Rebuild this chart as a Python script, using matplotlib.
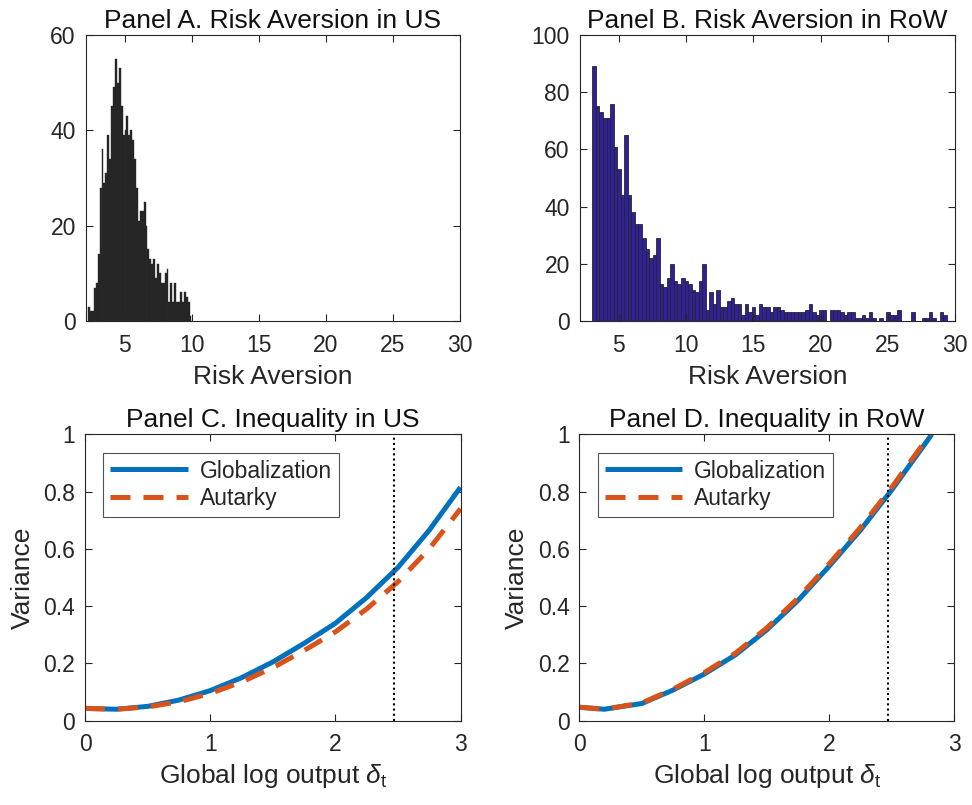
import numpy as np
import matplotlib
matplotlib.use("Agg")
import matplotlib.pyplot as plt

plt.rcParams['font.family'] = ['Liberation Sans', 'DejaVu Sans']
plt.rcParams['mathtext.fontset'] = 'custom'
plt.rcParams['mathtext.rm'] = 'Liberation Sans'
plt.rcParams['mathtext.it'] = 'Liberation Sans:italic'

# ---------------- data ----------------
# Panel A: US risk aversion histogram
us_bin_start = 2.27
us_bin_width = 0.1426
us_counts = [3, 2, 2, 7, 8, 14, 28, 36, 29, 31, 39, 34, 45, 49, 55, 50, 53, 45,
             39, 40, 43, 39, 40, 38, 34, 28, 21, 23, 23, 25, 20, 15, 13, 12, 13,
             9, 12, 10, 8, 8, 10, 11, 4, 8, 4, 8, 4, 4, 6, 4, 6, 5, 4, 1]

# Panel B: RoW risk aversion histogram
row_bin_start = 3.03
row_bin_width = 0.2635
row_counts = [89, 75, 73, 71, 71, 76, 61, 53, 44, 65,
              44, 38, 34, 34, 29, 25, 22, 23, 29, 13,
              12, 15, 20, 14, 13, 15, 14, 13, 11, 10,
              14, 20, 4, 10, 6, 11, 5, 5, 7, 8,
              6, 6, 2, 6, 3, 5, 2, 6, 5, 5,
              3, 5, 5, 4, 3, 3, 3, 3, 3, 3,
              4, 6, 3, 2, 4, 4, 0, 4, 4, 4,
              3, 2, 3, 3, 1, 1, 2, 1, 3, 1,
              0, 1, 0, 3, 2, 2, 4, 0, 0, 0,
              3, 0, 0, 1, 1, 3, 1, 0, 3, 2]

# Panel C: inequality in US
us_delta = [0.0, 0.25, 0.5, 0.75, 1.0, 1.25, 1.5, 1.75, 2.0, 2.25, 2.5, 2.75, 3.0]
us_glob = [0.043, 0.040, 0.050, 0.072, 0.105, 0.150, 0.205, 0.270, 0.340, 0.430, 0.535, 0.665, 0.815]
us_aut = [0.043, 0.040, 0.048, 0.066, 0.095, 0.135, 0.185, 0.245, 0.310, 0.390, 0.485, 0.600, 0.740]

# Panel D: inequality in RoW
row_delta = [0.0, 0.2, 0.5, 0.75, 1.0, 1.25, 1.5, 1.75, 2.0, 2.25, 2.5, 2.75, 2.82]
row_glob = [0.047, 0.040, 0.060, 0.107, 0.163, 0.230, 0.317, 0.420, 0.540, 0.666, 0.806, 0.957, 1.0]
row_aut = [0.047, 0.040, 0.062, 0.110, 0.168, 0.236, 0.324, 0.428, 0.548, 0.675, 0.815, 0.966, 1.01]

vline_x = 2.47

# ---------------- figure ----------------
fig = plt.figure(figsize=(9.72, 8.05), dpi=100)
W, H = 972, 805

def add_ax(l, r, t, b):
    return fig.add_axes([l / W, 1 - b / H, (r - l) / W, (b - t) / H])

axA = add_ax(85.5, 460, 35, 321)
axB = add_ax(579.5, 955, 35, 321)
axC = add_ax(85, 460.5, 434.3, 720.7)
axD = add_ax(579.3, 954.3, 434.3, 720.7)

txt = '#262626'
tick_fs = 16.5
lab_fs = 19

def style(ax):
    for s in ax.spines.values():
        s.set_color(txt)
        s.set_linewidth(0.8)
    ax.tick_params(direction='in', length=5, width=0.8, colors=txt,
                   labelsize=tick_fs, top=True, right=True)
    ax.tick_params(axis='x', pad=9)
    ax.tick_params(axis='y', pad=7)

# Panel A
edgesA = us_bin_start + us_bin_width * np.arange(len(us_counts))
axA.bar(edgesA, us_counts, width=us_bin_width, align='edge',
        color='#232323', edgecolor='#2e2e2e', linewidth=0.3)
axA.set_xlim(2.07, 30)
axA.set_ylim(0, 60)
axA.set_xticks([5, 10, 15, 20, 25, 30])
axA.set_yticks([0, 20, 40, 60])
axA.set_title('Panel A. Risk Aversion in US', fontsize=lab_fs, color='#111111', pad=5)
axA.set_xlabel('Risk Aversion', fontsize=lab_fs, color=txt, labelpad=6)
style(axA)

# Panel B
edgesB = row_bin_start + row_bin_width * np.arange(len(row_counts))
axB.bar(edgesB, row_counts, width=row_bin_width, align='edge',
        color='#30209A', edgecolor='#262626', linewidth=0.6)
axB.set_xlim(2.07, 30)
axB.set_ylim(0, 100)
axB.set_xticks([5, 10, 15, 20, 25, 30])
axB.set_yticks([0, 20, 40, 60, 80, 100])
axB.set_title('Panel B. Risk Aversion in RoW', fontsize=lab_fs, color='#111111', pad=5)
axB.set_xlabel('Risk Aversion', fontsize=lab_fs, color=txt, labelpad=6)
style(axB)

blue = '#0072BD'
orange = '#D95319'

def line_panel(ax, d, g, a, title):
    ax.plot(d, g, color=blue, lw=3.6, label='Globalization', solid_capstyle='butt')
    ax.plot(d, a, color=orange, lw=3.6, dashes=(4, 2.6), label='Autarky')
    ax.axvline(vline_x, color='black', lw=1.5, ls=(0, (1, 1.5)))
    ax.set_xlim(0, 3)
    ax.set_ylim(0, 1)
    ax.set_xticks([0, 1, 2, 3])
    ax.set_yticks([0, 0.2, 0.4, 0.6, 0.8, 1])
    ax.set_yticklabels(['0', '0.2', '0.4', '0.6', '0.8', '1'])
    ax.set_title(title, fontsize=lab_fs, color='#111111', pad=5)
    ax.set_xlabel(r'Global log output $\delta_{\rm t}$', fontsize=lab_fs, color=txt, labelpad=4)
    ax.set_ylabel('Variance', fontsize=lab_fs, color=txt, labelpad=6)
    leg = ax.legend(loc='upper left', fontsize=tick_fs, frameon=True, fancybox=False,
                    handlelength=3.4, borderaxespad=0.8, borderpad=0.3,
                    labelspacing=0.2, handletextpad=0.5)
    leg.get_frame().set_edgecolor(txt)
    leg.get_frame().set_linewidth(0.8)
    for t in leg.get_texts():
        t.set_color(txt)
    style(ax)

line_panel(axC, us_delta, us_glob, us_aut, 'Panel C. Inequality in US')
line_panel(axD, row_delta, row_glob, row_aut, 'Panel D. Inequality in RoW')

fig.savefig('out.png', dpi=100)
